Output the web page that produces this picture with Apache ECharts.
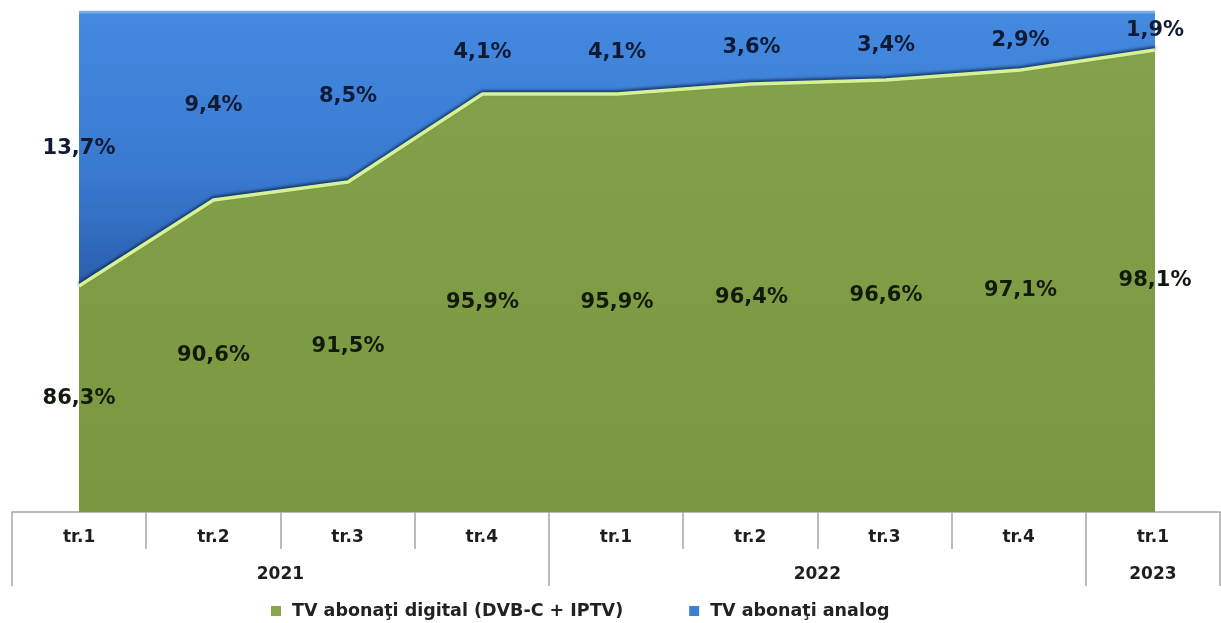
<!DOCTYPE html>
<html>
<head>
<meta charset="utf-8">
<script src="https://cdn.jsdelivr.net/npm/echarts@6/dist/echarts.min.js"></script>
<style>
  html, body { margin: 0; padding: 0; background: #ffffff; }
  #chart { width: 1221px; height: 623px; }
</style>
</head>
<body>
<div id="chart"></div>
<script>
// Quarterly share of TV subscribers by technology (%)
const quarters = ['tr.1', 'tr.2', 'tr.3', 'tr.4', 'tr.1', 'tr.2', 'tr.3', 'tr.4', 'tr.1'];
const years = ['2021', '2022', '2023'];
const quartersPerYear = [4, 4, 1];
const digital = [86.3, 90.6, 91.5, 95.9, 95.9, 96.4, 96.6, 97.1, 98.1];
const analog = [13.7, 9.4, 8.5, 4.1, 4.1, 3.6, 3.4, 2.9, 1.9];
const seriesNames = ['TV abonaţi digital (DVB-C + IPTV)', 'TV abonaţi analog'];
const yMin = 75, yMax = 100;

const fmt = v => v.toFixed(1).replace('.', ',') + '%';

// Year row: half-cell points so group labels sit in the middle of their span
const halfPoints = quarters.length * 2 + 1;
const yearCats = new Array(halfPoints).fill('');
const yearTickIdx = new Set([0]);
let pos = 0;
years.forEach((y, i) => {
  yearCats[pos + quartersPerYear[i]] = y;
  pos += quartersPerYear[i] * 2;
  yearTickIdx.add(pos);
});
const yearLabelIdx = new Set(yearCats.map((c, i) => c ? i : -1).filter(i => i >= 0));

// Label rows: [category index, lower bound, upper bound, value]
const digitalLabels = digital.map((v, i) => [i, 0, v, v]);
const analogLabels = analog.map((v, i) => [i, digital[i], digital[i] + v, v]);

function makeLabelRenderer(color) {
  return function (params, api) {
    const cs = params.coordSys;
    const i = api.value(0);
    const x = api.coord([i, yMin])[0];
    let yLow = api.coord([i, api.value(1)])[1];
    let yHigh = api.coord([i, api.value(2)])[1];
    yLow = Math.min(yLow, cs.y + cs.height);
    yHigh = Math.max(yHigh, cs.y);
    return {
      type: 'text',
      x: x,
      y: (yLow + yHigh) / 2,
      style: {
        text: fmt(api.value(3)),
        font: 'bold 21px "DejaVu Sans"',
        fill: color,
        align: 'center',
        verticalAlign: 'middle'
      }
    };
  };
}

const chart = echarts.init(document.getElementById('chart'), null, { renderer: 'canvas' });

const gridTop = 12, gridBottom = 111;
const tableLine = { color: '#a6a6a6', width: 1.5 };
const tableText = { fontFamily: 'DejaVu Sans', fontWeight: 'bold', fontSize: 17, color: '#1e1e1e' };

chart.setOption({
  animation: false,
  backgroundColor: '#ffffff',
  grid: [
    { left: 79, right: 66, top: gridTop, bottom: gridBottom },
    { left: 12, right: 1, top: gridTop, bottom: gridBottom },
    { left: 12, right: 1, top: gridTop, bottom: gridBottom }
  ],
  xAxis: [
    {
      gridIndex: 0, type: 'category', data: quarters, boundaryGap: false,
      axisLine: { show: false }, axisTick: { show: false }, axisLabel: { show: false }
    },
    {
      gridIndex: 1, type: 'category', data: quarters, boundaryGap: true,
      axisLine: { show: true, lineStyle: tableLine },
      axisTick: { show: true, length: 37, lineStyle: tableLine },
      axisLabel: Object.assign({ show: true, interval: 0, margin: 17 }, tableText)
    },
    {
      gridIndex: 2, type: 'category', data: yearCats, boundaryGap: false,
      axisLine: { show: false },
      axisTick: {
        show: true, length: 74, interval: (idx) => yearTickIdx.has(idx),
        lineStyle: tableLine
      },
      axisLabel: Object.assign({
        show: true, interval: (idx) => yearLabelIdx.has(idx), margin: 54
      }, tableText)
    }
  ],
  yAxis: [
    { gridIndex: 0, type: 'value', min: yMin, max: yMax, show: false },
    { gridIndex: 1, type: 'value', min: yMin, max: yMax, show: false },
    { gridIndex: 2, type: 'value', min: yMin, max: yMax, show: false }
  ],
  legend: {
    left: 266, top: 597, itemWidth: 10, itemHeight: 10, itemGap: 66, icon: 'rect',
    textStyle: {
      fontFamily: 'DejaVu Sans', fontWeight: 'bold', fontSize: 17.5, color: '#222222',
      padding: [0, 0, 0, 6]
    },
    data: [
      { name: seriesNames[0], itemStyle: { color: '#8aa64d' } },
      { name: seriesNames[1], itemStyle: { color: '#3d7fd4' } }
    ]
  },
  series: [
    {
      name: seriesNames[0], type: 'line', xAxisIndex: 0, yAxisIndex: 0,
      stack: 'share', data: digital, showSymbol: false, symbol: 'none',
      itemStyle: { color: '#7f9c44' },
      lineStyle: {
        color: '#d6f296', width: 3.5,
        shadowColor: 'rgba(10,25,60,0.75)', shadowBlur: 3, shadowOffsetY: -2
      },
      areaStyle: {
        opacity: 1,
        color: new echarts.graphic.LinearGradient(0, 0, 0, 1, [
          { offset: 0, color: '#84a249' },
          { offset: 1, color: '#7a973f' }
        ])
      },
      z: 3
    },
    {
      name: seriesNames[1], type: 'line', xAxisIndex: 0, yAxisIndex: 0,
      stack: 'share', data: analog, showSymbol: false, symbol: 'none',
      itemStyle: { color: '#3d7fd4' },
      lineStyle: { color: '#79aeea', width: 3 },
      areaStyle: {
        opacity: 1,
        color: new echarts.graphic.LinearGradient(0, 0, 0, 1, [
          { offset: 0, color: '#448ae0' },
          { offset: 0.6, color: '#3979d0' },
          { offset: 1, color: '#2a5fae' }
        ])
      },
      z: 2
    },
    {
      type: 'custom', xAxisIndex: 0, yAxisIndex: 0, data: digitalLabels,
      renderItem: makeLabelRenderer('#111a0c'), silent: true, z: 10
    },
    {
      type: 'custom', xAxisIndex: 0, yAxisIndex: 0, data: analogLabels,
      renderItem: makeLabelRenderer('#0f1a33'), silent: true, z: 10
    }
  ]
});
</script>
</body>
</html>
